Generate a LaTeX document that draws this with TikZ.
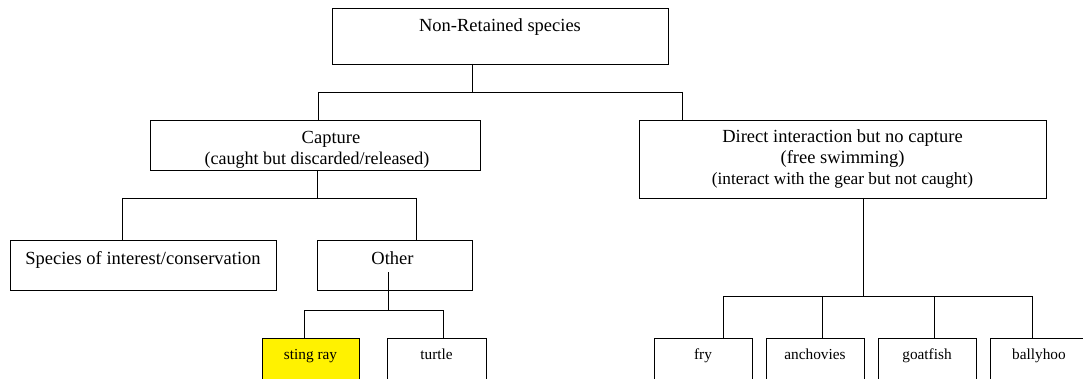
\documentclass[tikz,border=0pt]{standalone}
\usepackage{fontspec}
\setmainfont{Liberation Serif}
\usetikzlibrary{calc}
\begin{document}
\begin{tikzpicture}[x=1pt,y=-1pt,
  box/.style={draw=black, line width=0.9pt, fill=white, anchor=north west,
    inner sep=0pt, outer sep=0pt},
  hlbox/.style={box, fill=yellow},
  wire/.style={draw=black, line width=0.9pt},
  big/.style={font=\fontsize{18.5}{22}\selectfont, anchor=base, inner sep=0pt},
  mid/.style={font=\fontsize{17.3}{20}\selectfont, anchor=base, inner sep=0pt},
  small/.style={font=\fontsize{15.3}{18}\selectfont, anchor=base, inner sep=0pt},
]
\useasboundingbox (0,0) rectangle (1083,379);
\clip (0,0) rectangle (1083,379);

% top level
\node[box, minimum width=336pt, minimum height=56pt] (root) at (332,8) {};
\node[big] (root-t) at ($(root.north)+(0,24)$) {Non-Retained species};

% second level
\node[box, minimum width=330pt, minimum height=50pt] (cap) at (150,120) {};
\node[big] (cap-t1) at ($(cap.north)+(16,24)$) {Capture};
\node[font=\fontsize{18}{20}\selectfont, anchor=base, inner sep=0pt] (cap-t2)
  at ($(cap.north)+(2,45)$) {(caught but discarded/released)};

\node[box, minimum width=407pt, minimum height=78pt] (dir) at (639,120) {};
\node[big] (dir-t1) at ($(dir.north)+(0,23)$) {Direct interaction but no capture};
\node[big] (dir-t2) at ($(dir.north)+(0,44)$) {(free swimming)};
\node[mid] (dir-t3) at ($(dir.north)+(0,65)$) {(interact with the gear but not caught)};

% third level
\node[box, minimum width=266pt, minimum height=50pt] (spc) at (10,240) {};
\node[big] (spc-t) at ($(spc.north)+(0,24)$) {Species of interest/conservation};
\node[box, minimum width=155pt, minimum height=50pt] (oth) at (317,240) {};
\node[big] (oth-t) at ($(oth.north)+(-2,24)$) {Other};

% leaves (run off the lower edge)
\node[hlbox, minimum width=97pt, minimum height=70pt] (sting) at (262,338) {};
\node[small] (sting-t) at ($(sting.north)+(0,21)$) {sting ray};
\node[box, minimum width=99pt, minimum height=70pt] (turtle) at (387,338) {};
\node[small] (turtle-t) at ($(turtle.north)+(0,21)$) {turtle};

\node[box, minimum width=98pt, minimum height=70pt] (fry) at (654,338) {};
\node[small] (fry-t) at ($(fry.north)+(0,21)$) {fry};
\node[box, minimum width=98pt, minimum height=70pt] (anch) at (766,338) {};
\node[small] (anch-t) at ($(anch.north)+(0,21)$) {anchovies};
\node[box, minimum width=98pt, minimum height=70pt] (goat) at (878,338) {};
\node[small] (goat-t) at ($(goat.north)+(0,21)$) {goatfish};
\node[box, minimum width=98pt, minimum height=70pt] (bally) at (990,338) {};
\node[small] (bally-t) at ($(bally.north)+(0,21)$) {ballyhoo};

% connectors: root
\coordinate (root-j) at (472,92);
\coordinate (cap-in) at (318,92);
\coordinate (dir-in) at (682,92);
\draw[wire] (root.south -| root-j) -- (root-j);
\draw[wire] (cap-in) -- (dir-in);
\draw[wire] (cap-in) -- (cap-in |- cap.north);
\draw[wire] (dir-in) -- (dir-in |- dir.north);

% connectors: capture
\coordinate (cap-j) at (317,198);
\coordinate (spc-in) at (122,198);
\coordinate (oth-in) at (416,198);
\draw[wire] (cap.south -| cap-j) -- (cap-j);
\draw[wire] (spc-in) -- (oth-in);
\draw[wire] (spc-in) -- (spc-in |- spc.north);
\draw[wire] (oth-in) -- (oth-in |- oth.north);

% connectors: other
\coordinate (oth-o) at (388,272);
\coordinate (oth-j) at (388,310);
\coordinate (sting-in) at (304,310);
\coordinate (turtle-in) at (443,310);
\draw[wire] (oth-o) -- (oth-j);
\draw[wire] (sting-in) -- (turtle-in);
\draw[wire] (sting-in) -- (sting-in |- sting.north);
\draw[wire] (turtle-in) -- (turtle-in |- turtle.north);

% connectors: direct interaction
\coordinate (dir-j) at (863,296);
\coordinate (fry-in) at (723,296);
\coordinate (anch-in) at (822,296);
\coordinate (goat-in) at (934,296);
\coordinate (bally-in) at (1032,296);
\draw[wire] (dir.south -| dir-j) -- (dir-j);
\draw[wire] (fry-in) -- (bally-in);
\draw[wire] (fry-in) -- (fry-in |- fry.north);
\draw[wire] (anch-in) -- (anch-in |- anch.north);
\draw[wire] (goat-in) -- (goat-in |- goat.north);
\draw[wire] (bally-in) -- (bally-in |- bally.north);
\end{tikzpicture}
\end{document}
